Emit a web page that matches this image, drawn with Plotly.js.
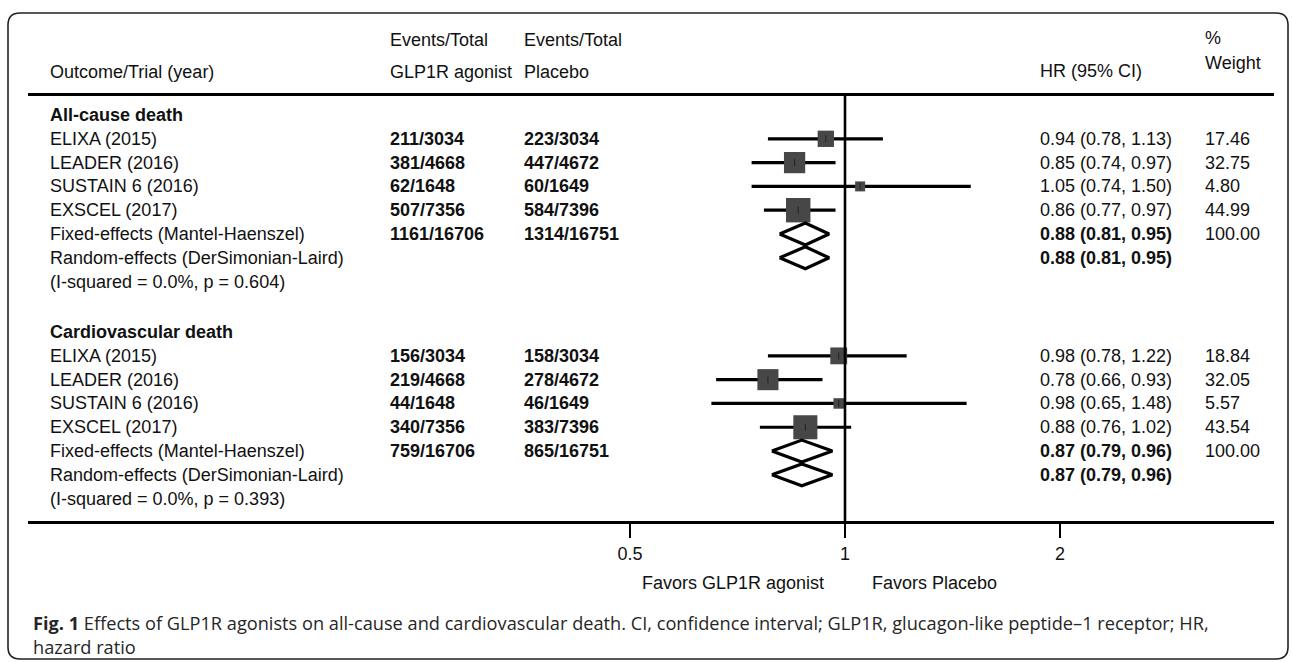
<!DOCTYPE html>
<html><head><meta charset="utf-8">
<script src="https://cdn.plot.ly/plotly-3.0.1.min.js"></script>
<style>html,body{margin:0;padding:0;background:#fff}#chart{width:1292px;height:662px}</style>
</head><body><div id="chart"></div><script>
// ---------------- data ----------------
const outcomes = ["All-cause death", "Cardiovascular death"];
const trials = ["ELIXA (2015)", "LEADER (2016)", "SUSTAIN 6 (2016)", "EXSCEL (2017)"];

const acmEventsGlp = ["211/3034", "381/4668", "62/1648", "507/7356"];
const acmEventsPbo = ["223/3034", "447/4672", "60/1649", "584/7396"];
const acmHR = [0.94, 0.85, 1.05, 0.86];
const acmLo = [0.78, 0.74, 0.74, 0.77];
const acmHi = [1.13, 0.97, 1.50, 0.97];
const acmWeight = [17.46, 32.75, 4.80, 44.99];
const acmTotalGlp = "1161/16706";
const acmTotalPbo = "1314/16751";
const acmFixed = [0.88, 0.81, 0.95];
const acmRandom = [0.88, 0.81, 0.95];
const acmHet = "(I-squared = 0.0%, p = 0.604)";

const cvEventsGlp = ["156/3034", "219/4668", "44/1648", "340/7356"];
const cvEventsPbo = ["158/3034", "278/4672", "46/1649", "383/7396"];
const cvHR = [0.98, 0.78, 0.98, 0.88];
const cvLo = [0.78, 0.66, 0.65, 0.76];
const cvHi = [1.22, 0.93, 1.48, 1.02];
const cvWeight = [18.84, 32.05, 5.57, 43.54];
const cvTotalGlp = "759/16706";
const cvTotalPbo = "865/16751";
const cvFixed = [0.87, 0.79, 0.96];
const cvRandom = [0.87, 0.79, 0.96];
const cvHet = "(I-squared = 0.0%, p = 0.393)";

const fixedLabel = "Fixed-effects (Mantel-Haenszel)";
const randomLabel = "Random-effects (DerSimonian-Laird)";
const tickVals = [0.5, 1, 2];
const tickText = ["0.5", "1", "2"];
const favorsLeft = "Favors GLP1R agonist";
const favorsRight = "Favors Placebo";
const captionBold = "Fig. 1";
const captionLine1 = " Effects of GLP1R agonists on all-cause and cardiovascular death. CI, confidence interval; GLP1R, glucagon-like peptide\u20131 receptor; HR,";
const captionLine2 = "hazard ratio";

const sections = [
  {title: outcomes[0], glp: acmEventsGlp, pbo: acmEventsPbo, hr: acmHR, lo: acmLo, hi: acmHi, w: acmWeight,
   totGlp: acmTotalGlp, totPbo: acmTotalPbo, fixed: acmFixed, random: acmRandom, het: acmHet},
  {title: outcomes[1], glp: cvEventsGlp, pbo: cvEventsPbo, hr: cvHR, lo: cvLo, hi: cvHi, w: cvWeight,
   totGlp: cvTotalGlp, totPbo: cvTotalPbo, fixed: cvFixed, random: cvRandom, het: cvHet}
];

// ---------------- layout geometry ----------------
const W = 1292, H = 662;
const px = x => x / W;
const py = y => 1 - y / H;
const FONT = "Arial, Liberation Sans, Helvetica, sans-serif";
const FS = 18;
const rowPx = 23.8;
const firstRowPx = 115;
const headerLinePx = 96, axisLinePx = 521;
const lineLeft = 28, lineRight = 1274;
const onePx = 845, doublingPx = 215;
const sectionStart = [0, 9.12];

const lg = p => Math.log10(Math.pow(2, (p - onePx) / doublingPx));
const xRange = [lg(lineLeft), lg(lineRight)];
const yTop = (headerLinePx - firstRowPx) / rowPx;
const yBot = (axisLinePx - firstRowPx) / rowPx;

const colLabel = 48, colGlp = 388, colPbo = 522, colHR = 1038, colW = 1203;
const fmt = v => v.toFixed(2);
const ci = (a, b, c) => `${fmt(a)} (${fmt(b)}, ${fmt(c)})`;

const ann = [];
function txt(x, y, text, opts = {}) {
  ann.push(Object.assign({
    x: px(x), xref: "paper", y: y, yref: "y", text: text, showarrow: false,
    xanchor: "left", yanchor: "middle", font: {family: FONT, size: FS, color: "#111"}
  }, opts));
}
function ptxt(x, y, text, opts = {}) {
  txt(x, py(y), text, Object.assign({yref: "paper"}, opts));
}

// headers
ptxt(colGlp, 40, "Events/Total");
ptxt(colPbo, 40, "Events/Total");
ptxt(colLabel, 72, "Outcome/Trial (year)");
ptxt(colGlp, 72, "GLP1R agonist");
ptxt(colPbo, 72, "Placebo");
ptxt(colHR, 71, "HR (95% CI)");
ptxt(colW, 38, "%");
ptxt(colW, 63, "Weight");

const ciX = [], ciY = [], sqX = [], sqY = [], sqS = [];
const dTraces = [];
const diamondHalf = 0.46;

sections.forEach((s, si) => {
  const r0 = sectionStart[si];
  txt(colLabel, r0, `<b>${s.title}</b>`);
  trials.forEach((t, i) => {
    const r = r0 + 1 + i;
    txt(colLabel, r, t);
    txt(colGlp, r, `<b>${s.glp[i]}</b>`);
    txt(colPbo, r, `<b>${s.pbo[i]}</b>`);
    txt(colHR, r, ci(s.hr[i], s.lo[i], s.hi[i]));
    txt(colW, r, fmt(s.w[i]));
    ciX.push(s.lo[i], s.hi[i], null); ciY.push(r, r, null);
    sqX.push(s.hr[i]); sqY.push(r); sqS.push(3 + 3.19 * Math.sqrt(s.w[i]));
  });
  const rf = r0 + 5, rr = r0 + 6, rh = r0 + 7;
  txt(colLabel, rf, fixedLabel);
  txt(colGlp, rf, `<b>${s.totGlp}</b>`);
  txt(colPbo, rf, `<b>${s.totPbo}</b>`);
  txt(colHR, rf, `<b>${ci(s.fixed[0], s.fixed[1], s.fixed[2])}</b>`);
  txt(colW, rf, fmt(100));
  txt(colLabel, rr, randomLabel);
  txt(colHR, rr, `<b>${ci(s.random[0], s.random[1], s.random[2])}</b>`);
  txt(colLabel, rh, s.het);
  [[s.fixed, rf], [s.random, rr]].forEach(([v, r]) => {
    dTraces.push({
      type: "scatter", mode: "lines", hoverinfo: "skip", showlegend: false,
      x: [v[1], v[0], v[2], v[0], v[1]],
      y: [r, r - diamondHalf, r, r + diamondHalf, r],
      line: {color: "#000", width: 3.2}
    });
  });
});

const traces = [
  {type: "scatter", mode: "lines", x: ciX, y: ciY, line: {color: "#000", width: 3.2},
   hoverinfo: "skip", showlegend: false},
  {type: "scatter", mode: "markers", x: sqX, y: sqY,
   marker: {symbol: "square", size: sqS, color: "#474747", opacity: 1, line: {width: 0}},
   hoverinfo: "skip", showlegend: false},
  {type: "scatter", mode: "markers", x: sqX, y: sqY,
   marker: {symbol: "line-ns-open", size: 5, color: "#222", line: {width: 1, color: "#222"}},
   hoverinfo: "skip", showlegend: false}
].concat(dTraces);

// favours + caption
ptxt(826, 583, favorsLeft, {xanchor: "right"});
ptxt(870, 583, favorsRight);
const capFont = {family: "Open Sans, Noto Sans, sans-serif", size: 18.2, color: "#262626"};
ptxt(31, 635, `<b>${captionBold}</b>${captionLine1}<br>${captionLine2}`,
     {font: capFont, align: "left"});

// rounded frame
const fl = 8, fr = 1288, ft = 13, fb = 659, rad = 12;
const P = (x, y) => `${px(x)},${py(y)}`;
const framePath = `M${P(fl + rad, ft)} L${P(fr - rad, ft)} Q${P(fr, ft)} ${P(fr, ft + rad)} L${P(fr, fb - rad)} Q${P(fr, fb)} ${P(fr - rad, fb)} L${P(fl + rad, fb)} Q${P(fl, fb)} ${P(fl, fb - rad)} L${P(fl, ft + rad)} Q${P(fl, ft)} ${P(fl + rad, ft)} Z`;

const layout = {
  width: W, height: H, margin: {l: 0, r: 0, t: 0, b: 0},
  paper_bgcolor: "#fff", plot_bgcolor: "rgba(0,0,0,0)", showlegend: false,
  xaxis: {
    type: "log", range: xRange, domain: [px(lineLeft), px(lineRight)],
    showline: true, linewidth: 3, linecolor: "#000", mirror: true,
    ticks: "outside", ticklen: 14, tickwidth: 2, tickcolor: "#000",
    tickvals: tickVals, ticktext: tickText, showgrid: false, zeroline: false,
    tickfont: {family: FONT, size: FS, color: "#111"}, ticklabelstandoff: 0, fixedrange: true
  },
  yaxis: {
    range: [yBot, yTop], domain: [py(axisLinePx), py(headerLinePx)],
    visible: false, showgrid: false, zeroline: false, fixedrange: true
  },
  shapes: [
    {type: "line", xref: "x", x0: 1, x1: 1, yref: "y domain", y0: 0, y1: 1,
     line: {color: "#000", width: 2.6}},
    {type: "path", xref: "paper", yref: "paper", path: framePath,
     line: {color: "#222", width: 1.6}, fillcolor: "rgba(0,0,0,0)"}
  ],
  annotations: ann
};

Plotly.newPlot("chart", traces, layout, {displayModeBar: false, staticPlot: true});
</script></body></html>
